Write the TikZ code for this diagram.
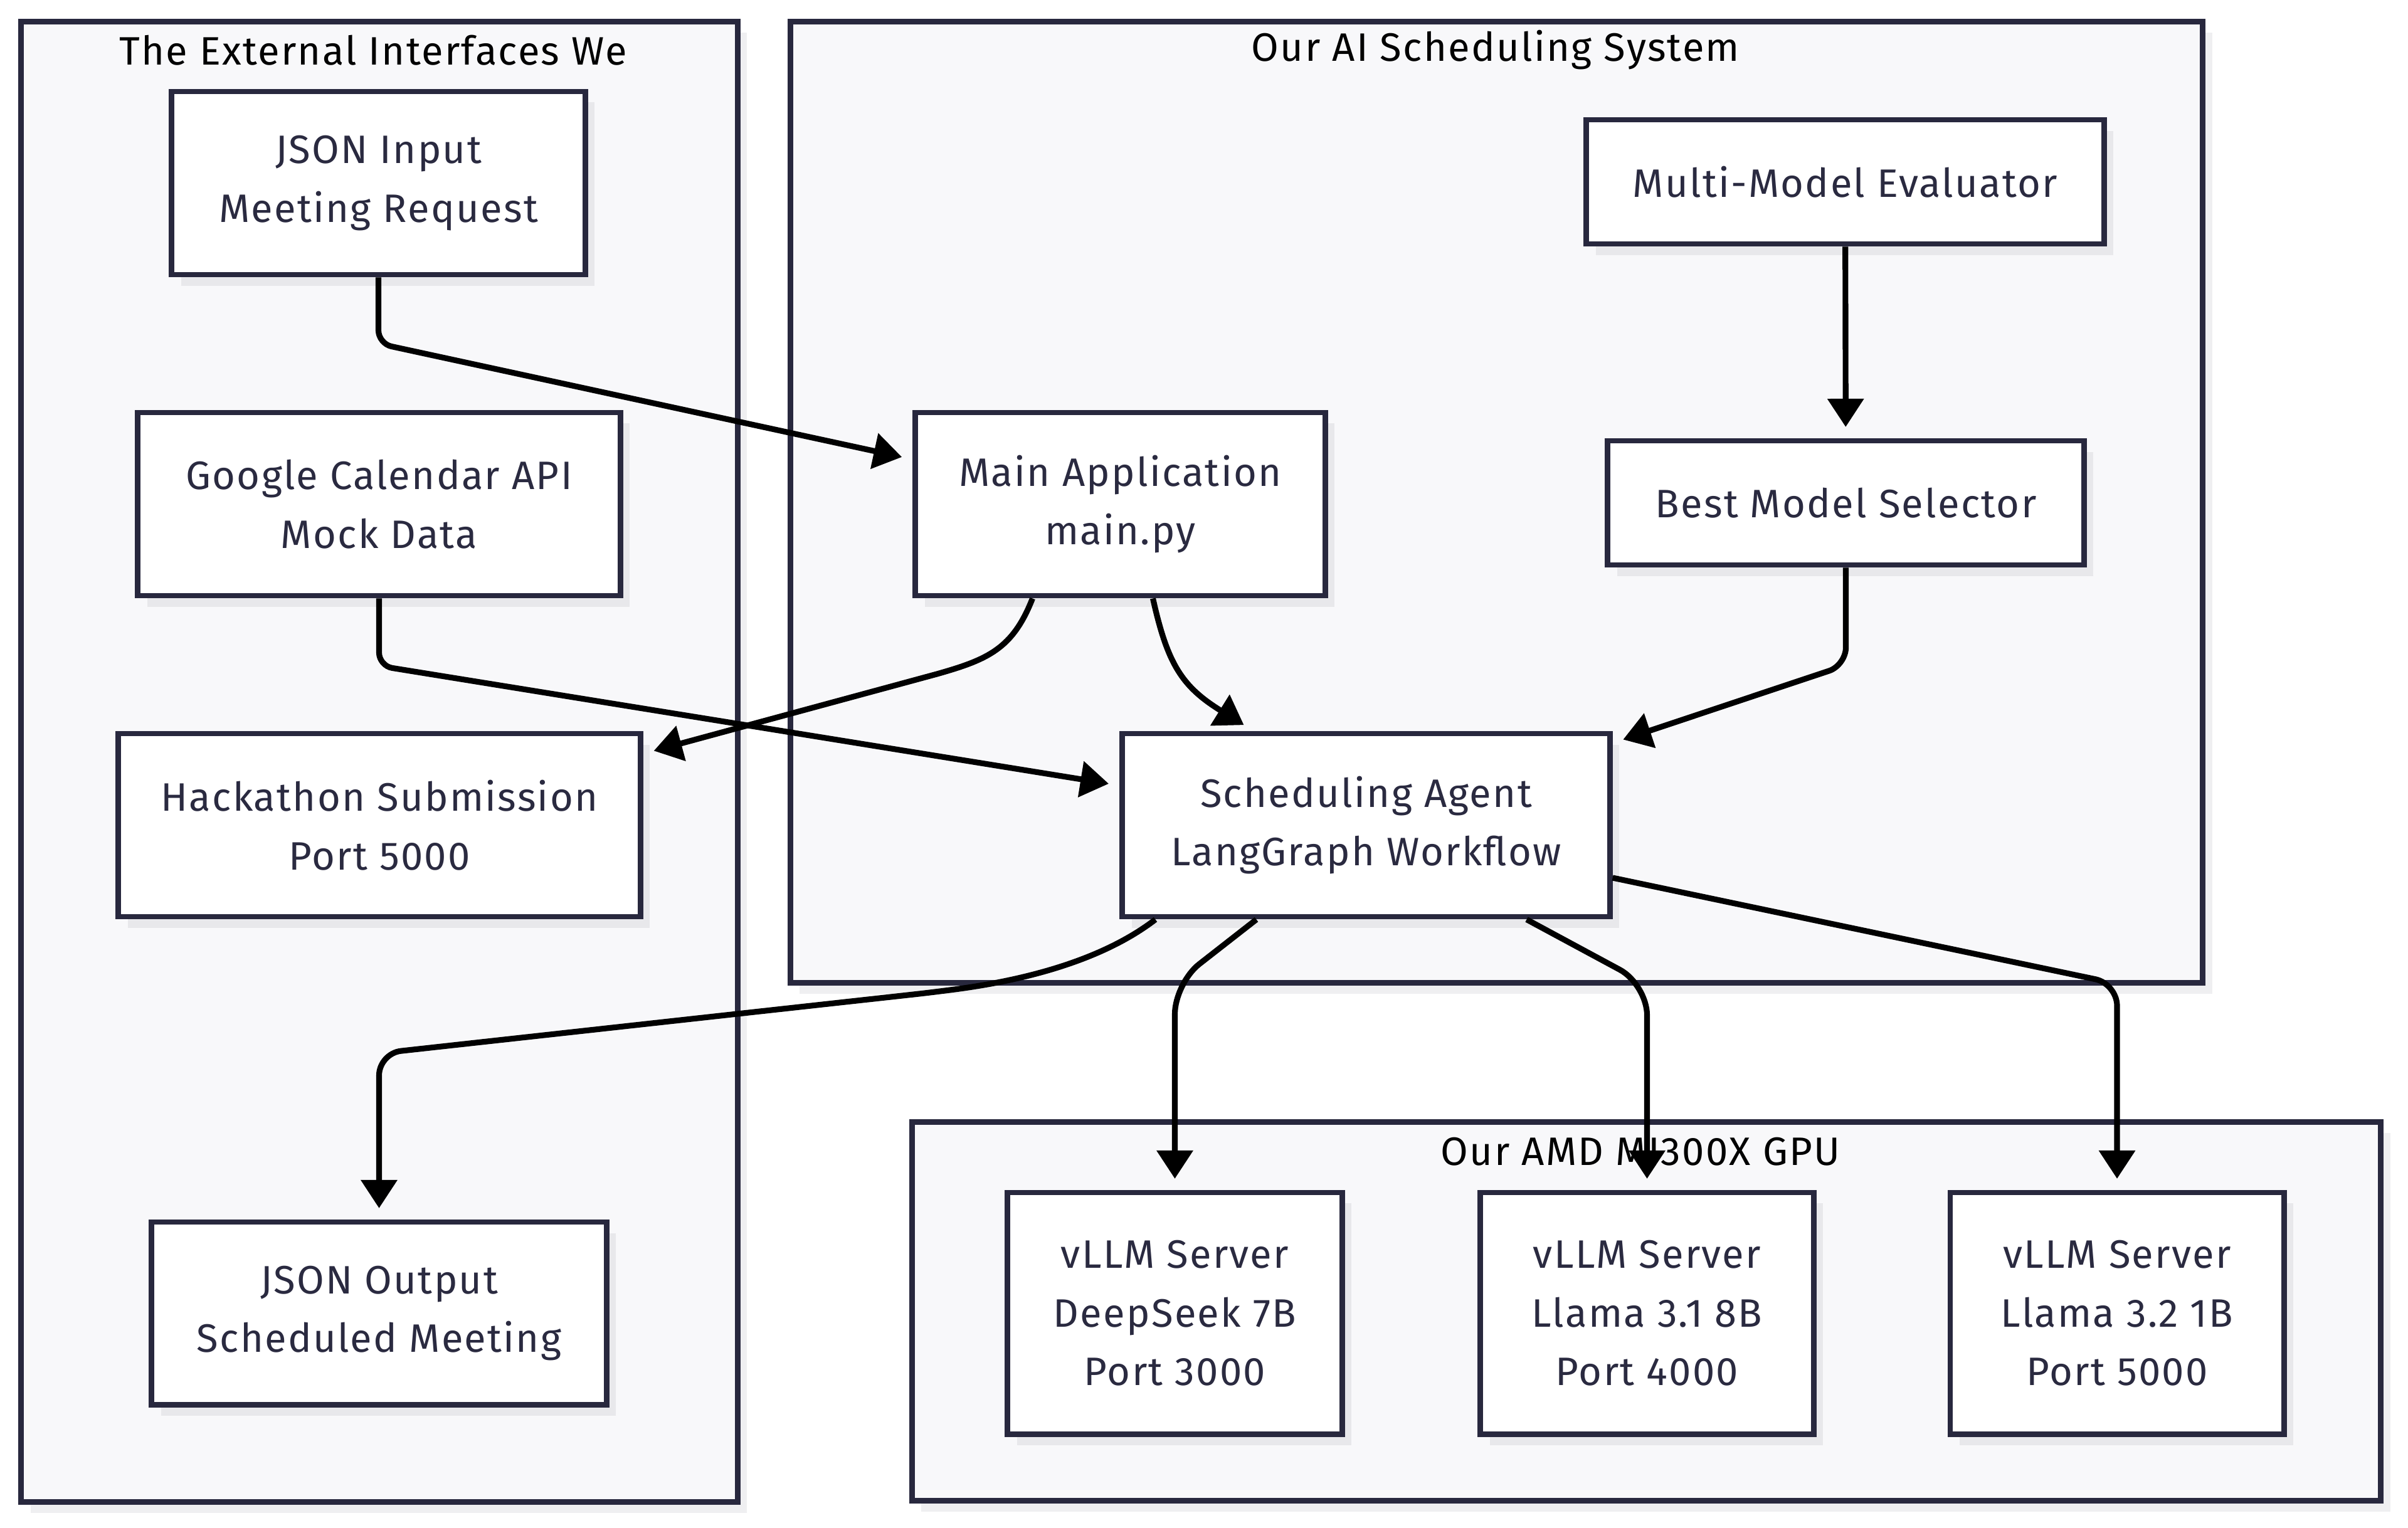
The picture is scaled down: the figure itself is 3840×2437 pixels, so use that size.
\documentclass[tikz,border=0pt]{standalone}
\usepackage{fontspec}
\setmainfont[LetterSpace=3.6]{Fira Sans}
\usetikzlibrary{arrows.meta,shadows}
\definecolor{bordc}{HTML}{28283E}
\definecolor{txtc}{HTML}{2A2A40}
\definecolor{clfill}{HTML}{F8F8FA}
\definecolor{shadc}{HTML}{E8E8EB}
\newcommand{\lblfont}{\fontsize{18pt}{26.6pt}\selectfont}
\tikzset{
  box/.style={draw=bordc, fill=white, line width=2.5pt, text=txtc, align=center,
    inner sep=0pt, font=\lblfont,
    general shadow={fill=shadc, shadow xshift=4.3pt, shadow yshift=-5pt}},
  cluster/.style={draw=bordc, fill=clfill, line width=2.6pt, inner sep=0pt,
    general shadow={fill=shadc!70, shadow xshift=4.3pt, shadow yshift=-5pt}},
  cltitle/.style={text=black, font=\lblfont, inner sep=0pt},
  edge/.style={draw=black, line width=2.6pt, shorten >=5pt,
    -{Triangle[length=12.8pt,width=16pt]}}
}
\begin{document}
\begin{tikzpicture}[x=0.01cm,y=-0.01cm]
\useasboundingbox (0,0) rectangle (3840,2437);
\fill[white] (0,0) rectangle (3840,2437);
% clusters
\node[cluster, minimum width=11.42cm, minimum height=23.60cm] (ext) at (605,1215) {};
\node[cluster, minimum width=22.51cm, minimum height=15.32cm] (ai) at (2386.5,801) {};
\node[cluster, minimum width=23.41cm, minimum height=6.03cm] (gpu) at (2625.5,2091.5) {};
\node[cltitle] (extt) at (595,80) {The External Interfaces We};
\node[cltitle] (ait) at (2385,80) {Our AI Scheduling System};
\node[cltitle] (gput) at (2616,1837) {Our AMD MI300X GPU};
% nodes
\node[box, minimum width=6.59cm, minimum height=2.92cm] (jin) at (603.5,292) {JSON Input\\Meeting Request};
\node[box, minimum width=7.69cm, minimum height=2.92cm] (gcal) at (604.5,804) {Google Calendar API\\Mock Data};
\node[box, minimum width=8.32cm, minimum height=2.92cm] (hack) at (605,1316) {Hackathon Submission\\Port 5000};
\node[box, minimum width=7.25cm, minimum height=2.91cm] (jout) at (604.5,2094.5) {JSON Output\\Scheduled Meeting};
\node[box, minimum width=6.53cm, minimum height=2.92cm] (main) at (1786.5,804) {Main Application\\main.py};
\node[box, minimum width=8.25cm, minimum height=1.98cm] (multi) at (2942.5,290) {Multi-Model Evaluator};
\node[box, minimum width=7.59cm, minimum height=1.98cm] (best) at (2943.5,802) {Best Model Selector};
\node[box, minimum width=7.77cm, minimum height=2.92cm] (sched) at (2178.5,1316) {Scheduling Agent\\LangGraph Workflow};
\node[box, minimum width=5.33cm, minimum height=3.85cm] (v1) at (1873.5,2094.5) {vLLM Server\\DeepSeek 7B\\Port 3000};
\node[box, minimum width=5.31cm, minimum height=3.85cm] (v2) at (2626.5,2094.5) {vLLM Server\\Llama 3.1 8B\\Port 4000};
\node[box, minimum width=5.32cm, minimum height=3.85cm] (v3) at (3376,2094.5) {vLLM Server\\Llama 3.2 1B\\Port 5000};
% edges
\draw[edge, rounded corners=6pt] (jin.south) -- (jin.south |- 0,548) -- (main);
\draw[edge, rounded corners=6pt] (gcal.south) -- (gcal.south |- 0,1062) -- (sched);
\draw[edge] ([shift={(-140,0)}]main.south) .. controls (1615,1035) and (1575,1052) .. (1494,1075) -- (hack);
\draw[edge] ([shift={(52,0)}]main.south) .. controls (1862,1060) and (1885,1095) .. ([shift={(-180,0)}]sched.north);
\draw[edge] (multi) -- (best);
\draw[edge, rounded corners=8pt] (best.south) -- (best.south |- 0,1061) -- (sched);
\draw[edge, rounded corners=10pt] ([shift={(-336,0)}]sched.south) .. controls (1760,1530) and (1640,1562) .. (1493,1582) -- (jout.north |- 0,1680) -- (jout.north);
\draw[edge, rounded corners=14pt] ([shift={(-175,0)}]sched.south) -- (v1.north |- 0,1568) -- (v1.north);
\draw[edge, rounded corners=14pt] ([shift={(256,0)}]sched.south) -- (v2.north |- 0,1570) -- (v2.north);
\draw[edge, rounded corners=10pt] ([shift={(0,84)}]sched.east) -- (v3.north |- 0,1569) -- (v3.north);
\end{tikzpicture}
\end{document}
